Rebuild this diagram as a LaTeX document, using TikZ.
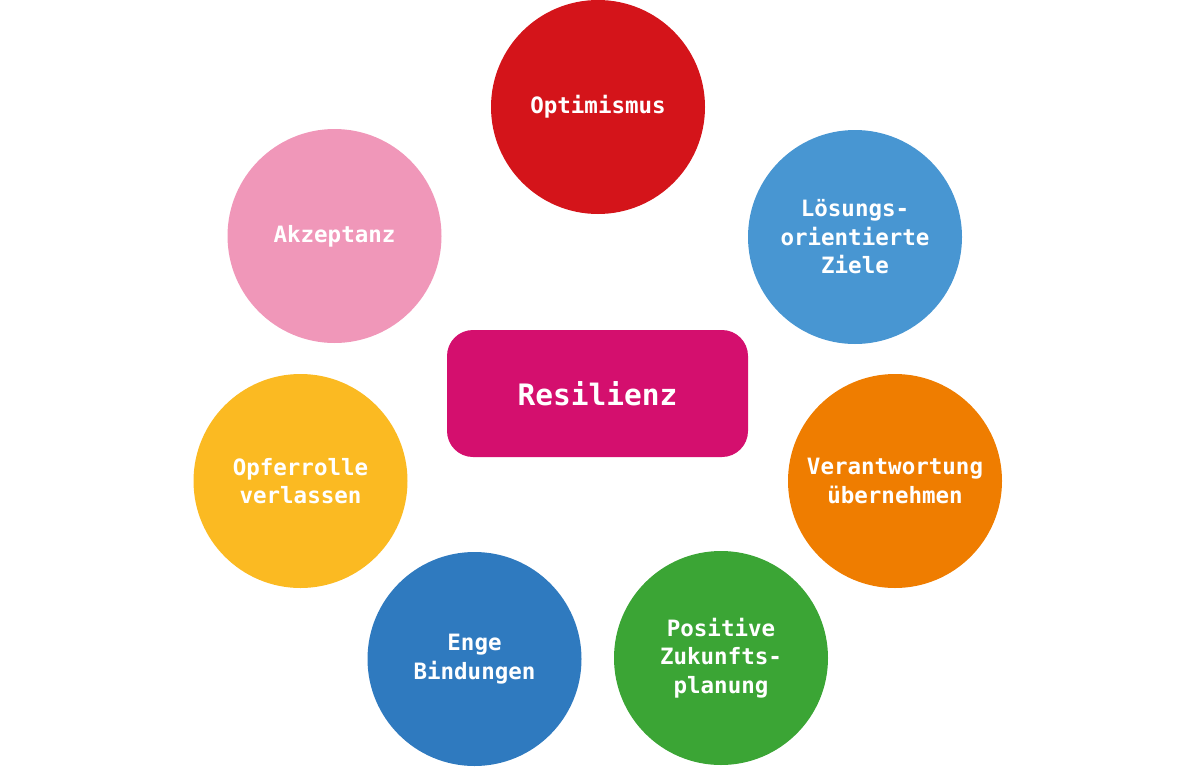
\documentclass[tikz,border=0pt]{standalone}
\usepackage{fontspec}
\newfontfamily\labelfont{DejaVu Sans Mono}
\definecolor{cred}{HTML}{D4141A}
\definecolor{clblue}{HTML}{4896D2}
\definecolor{corange}{HTML}{EF7D00}
\definecolor{cgreen}{HTML}{3BA535}
\definecolor{cdblue}{HTML}{2F7ABF}
\definecolor{cyellow}{HTML}{FBBA22}
\definecolor{cpink}{HTML}{F097B9}
\definecolor{cmag}{HTML}{D40F6E}
\tikzset{
  bubble/.style={circle, minimum size=214pt, inner sep=0pt, fill=#1, text=white,
    align=center, font=\labelfont\bfseries\fontsize{22.5}{28.5}\selectfont},
  hub/.style={rounded corners=26pt, minimum width=301pt, minimum height=127pt,
    inner sep=0pt, fill=cmag, text=white, font=\labelfont\bfseries\fontsize{29.5}{34}\selectfont}
}
\begin{document}
\begin{tikzpicture}[x=1pt,y=-1pt]
\useasboundingbox (0,0) rectangle (1196,768);
\node[hub] (res) at (597.5,393.5) {Resilienz};
\node[bubble=cred] (opt) at (598,107) {Optimismus};
\node[bubble=clblue] (loe) at (855,237) {Lösungs-\\orientierte\\Ziele};
\node[bubble=corange] (ver) at (895,481) {Verantwortung\\übernehmen};
\node[bubble=cgreen] (pos) at (721,658) {Positive\\Zukunfts-\\planung};
\node[bubble=cdblue] (eng) at (474.5,659) {Enge\\Bindungen};
\node[bubble=cyellow] (opf) at (300.5,481) {Opferrolle\\verlassen};
\node[bubble=cpink] (akz) at (334.5,236) {Akzeptanz};
\end{tikzpicture}
\end{document}
